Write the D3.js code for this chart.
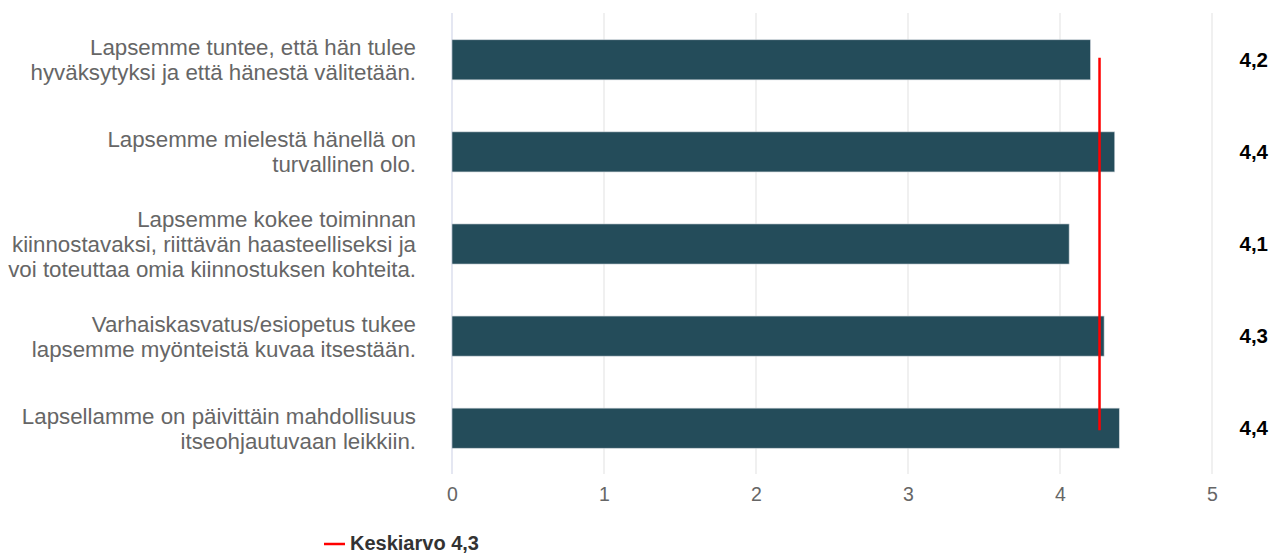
<!DOCTYPE html>
<html><head><meta charset="utf-8">
<script src="https://cdn.jsdelivr.net/npm/d3@7/dist/d3.min.js"></script>
<style>body{margin:0;background:#fff;} svg{display:block;font-family:"Liberation Sans",Arial,sans-serif;}</style>
</head><body><svg id="c" width="1271" height="553"></svg>
<script>
const categories = [
  ["Lapsemme tuntee, että hän tulee", "hyväksytyksi ja että hänestä välitetään."],
  ["Lapsemme mielestä hänellä on", "turvallinen olo."],
  ["Lapsemme kokee toiminnan", "kiinnostavaksi, riittävän haasteelliseksi ja", "voi toteuttaa omia kiinnostuksen kohteita."],
  ["Varhaiskasvatus/esiopetus tukee", "lapsemme myönteistä kuvaa itsestään."],
  ["Lapsellamme on päivittäin mahdollisuus", "itseohjautuvaan leikkiin."]
];
const values = [4.2, 4.36, 4.06, 4.29, 4.39];
const valueLabels = ["4,2", "4,4", "4,1", "4,3", "4,4"];
const average = 4.26;
const averageLabel = "Keskiarvo 4,3";
const ticks = [0, 1, 2, 3, 4, 5];

const svg = d3.select("#c");
const x = d3.scaleLinear().domain([0, 5]).range([452, 1212]);
const y = d3.scaleBand().domain(d3.range(categories.length)).range([14, 474]).paddingInner(0.565).paddingOuter(0.28);

// grid
svg.append("g").selectAll("line").data(ticks).join("line")
  .attr("x1", d => x(d)).attr("x2", d => x(d))
  .attr("y1", 13).attr("y2", 474)
  .attr("stroke", d => d === 0 ? "#d3d7ea" : "#e6e6e6").attr("stroke-width", 1.2);

// axis labels
const ax = svg.append("g").attr("transform", "translate(0,474)")
  .call(d3.axisBottom(x).tickValues(ticks).tickSize(0).tickPadding(13).tickFormat(d => d));
ax.select(".domain").remove();
ax.selectAll("text").attr("fill", "#666").attr("font-size", 19.5).attr("font-family", "Liberation Sans, Arial, sans-serif");

// bars
svg.append("g").selectAll("rect").data(values).join("rect")
  .attr("x", x(0)).attr("y", (d, i) => y(i))
  .attr("width", d => x(d) - x(0)).attr("height", y.bandwidth())
  .attr("fill", "#244c5a").attr("stroke", "#c9d0d6").attr("stroke-width", 0.6);

// category labels
const lh = 25;
svg.append("g").selectAll("text").data(categories).join("text")
  .attr("text-anchor", "end").attr("fill", "#666").attr("font-size", 22.3)
  .attr("transform", (d, i) => `translate(416,${y(i) + y.bandwidth() / 2 - (d.length - 1) * lh / 2 + 8})`)
  .each(function (d) {
    d3.select(this).selectAll("tspan").data(d).join("tspan")
      .attr("x", 0).attr("dy", (t, j) => j === 0 ? 0 : lh).text(t => t);
  });

// value labels
svg.append("g").selectAll("text").data(valueLabels).join("text")
  .attr("x", 1268).attr("y", (d, i) => y(i) + y.bandwidth() / 2 + 7)
  .attr("text-anchor", "end").attr("font-weight", "bold").attr("font-size", 20.5).attr("fill", "#000")
  .text(d => d);

// average line
svg.append("line")
  .attr("x1", x(average)).attr("x2", x(average))
  .attr("y1", y(0) + y.bandwidth() / 2 - 2).attr("y2", y(categories.length - 1) + y.bandwidth() / 2 + 2)
  .attr("stroke", "#ff0000").attr("stroke-width", 2.5);

// legend
svg.append("line").attr("x1", 324).attr("x2", 345).attr("y1", 544).attr("y2", 544)
  .attr("stroke", "#ff0000").attr("stroke-width", 2.5);
svg.append("text").attr("x", 350).attr("y", 550).attr("font-size", 20).attr("font-weight", "bold")
  .attr("fill", "#333").text(averageLabel);
</script></body></html>
